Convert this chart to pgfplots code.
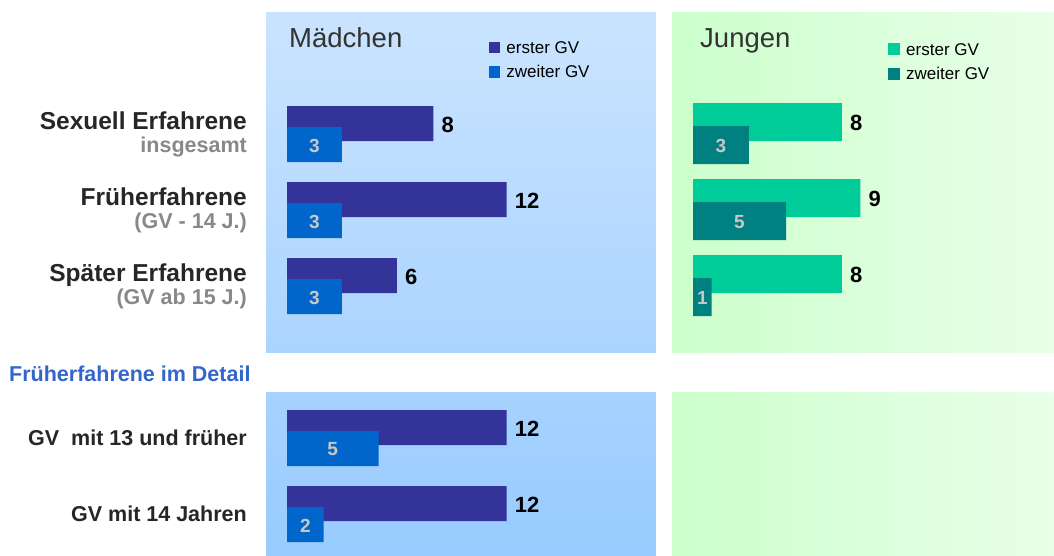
\documentclass[border=0pt]{standalone}
\usepackage{fontspec}
\setmainfont{Liberation Sans}
\usepackage{pgfplots}
\usepackage{pgfplotstable}
\pgfplotsset{compat=1.18}
\definecolor{mfirst}{RGB}{51,51,153}
\definecolor{msecond}{RGB}{0,102,204}
\definecolor{jfirst}{RGB}{0,204,153}
\definecolor{jsecond}{RGB}{0,128,128}
\definecolor{inlbl}{RGB}{200,200,200}
\definecolor{mtopA}{RGB}{202,228,255}
\definecolor{mtopB}{RGB}{171,212,255}
\definecolor{mbotA}{RGB}{166,210,255}
\definecolor{mbotB}{RGB}{152,203,255}
\definecolor{jleft}{RGB}{204,255,204}
\definecolor{jright}{RGB}{232,255,232}
\definecolor{lbl}{RGB}{38,38,38}
\definecolor{sublbl}{RGB}{136,136,136}
\definecolor{detail}{RGB}{51,102,204}
\definecolor{ttl}{RGB}{51,51,51}

% y = bar centre (px from top), v = value
\pgfplotstableread{
y v
123.5 8
199.5 12
275.5 6
}\mfirsttop
\pgfplotstableread{
y v
144.5 3
220.5 3
296.5 3
}\msecondtop
\pgfplotstableread{
y v
427.5 12
503.5 12
}\mfirstbot
\pgfplotstableread{
y v
448.5 5
524.5 2
}\msecondbot
\pgfplotstableread{
y v
122 8
198 9
274 8
}\jfirst
\pgfplotstableread{
y v
145 3
221 5
297 1
}\jsecond

\pgfplotsset{
  panel/.style={
    y dir=reverse, y=1pt,
    axis line style={draw=none}, tick style={draw=none}, major tick length=0pt,
    xtick=\empty, ytick=\empty,
    clip=false,
    /pgf/number format/assume math mode=true,
    anchor=north west,
    yticklabel style={align=right, inner sep=0pt, xshift=-19pt,
      font=\fontsize{24.5}{23}\selectfont\bfseries, text=lbl},
    legend cell align=left,
  },
  barA/.style n args={3}{xbar, bar shift=0pt, draw=none, fill=#1, bar width=#2,
    nodes near coords, point meta=x,
    every node near coord/.append style={anchor=west, inner sep=0pt, xshift=8pt, yshift=-1pt,
      font=\fontsize{22}{22}\selectfont\bfseries, text=black},
    legend image code/.code={\fill[fill=#1] (0pt,-6pt) rectangle (#3,#3-6pt);}},
  barB/.style n args={3}{xbar, bar shift=0pt, draw=none, fill=#1, bar width=#2,
    legend image code/.code={\fill[fill=#1] (0pt,-6pt) rectangle (#3,#3-6pt);}},
  inlabel/.style={draw=none, mark=none, forget plot, nodes near coords, point meta=\thisrow{v},
    every node near coord/.append style={anchor=center, inner sep=0pt, yshift=-1pt,
      font=\fontsize{19}{19}\selectfont\bfseries, text=inlbl}},
  leg/.style 2 args={legend style={at={(#1,#2)}, anchor=north west, draw=none, fill=none,
    inner sep=0pt, row sep=12.5pt,
    nodes={inner sep=0pt, text height=12pt, text depth=0pt, font=\fontsize{17}{17}\selectfont, text=black},
    /tikz/every odd column/.append style={column sep=6pt}}},
}

\begin{document}
\begin{tikzpicture}
\path[use as bounding box] (0,0) rectangle (1054pt,-556pt);

% Mädchen, top
\begin{axis}[panel, at={(266pt,-12pt)},
  x=18.3pt, xmin=-1.1475, xmax=20.16, ymin=12, ymax=352,
  axis background/.style={top color=mtopA, bottom color=mtopB},
  ytick={134,210,286},
  yticklabels={{Sexuell Erfahrene\\{\color{sublbl}\fontsize{21.5}{23}\selectfont insgesamt}},
               {Früherfahrene\\{\color{sublbl}\fontsize{21.5}{23}\selectfont (GV - 14 J.)}},
               {Später Erfahrene\\{\color{sublbl}\fontsize{21.5}{23}\selectfont (GV ab 15 J.)}}},
  leg={0.5718}{0.9147},
]
\addplot[barA={mfirst}{35pt}{11.3pt}] table[x=v, y=y] {\mfirsttop};
\addlegendentry{erster GV}
\addplot[barB={msecond}{35pt}{11.3pt}] table[x=v, y=y] {\msecondtop};
\addlegendentry{zweiter GV}
\addplot[inlabel] table[x expr=\thisrow{v}/2, y=y] {\msecondtop};
\end{axis}

% Jungen, top
\begin{axis}[panel, at={(672pt,-12pt)},
  x=18.6pt, xmin=-1.129, xmax=19.41, ymin=12, ymax=352,
  axis background/.style={left color=jleft, right color=jright},
  leg={0.5654}{0.9088},
]
\addplot[barA={jfirst}{38pt}{12pt}] table[x=v, y=y] {\jfirst};
\addlegendentry{erster GV}
\addplot[barB={jsecond}{38pt}{12pt}] table[x=v, y=y] {\jsecond};
\addlegendentry{zweiter GV}
\addplot[inlabel] table[x expr=\thisrow{v}/2, y=y] {\jsecond};
\end{axis}

% Mädchen, bottom
\begin{axis}[panel, at={(266pt,-392pt)},
  x=18.3pt, xmin=-1.1475, xmax=20.16, ymin=392, ymax=556,
  axis background/.style={top color=mbotA, bottom color=mbotB},
  ytick={438,514},
  yticklabels={{GV~~mit 13 und früher},{GV mit 14 Jahren}},
  yticklabel style={font=\fontsize{21.5}{23}\selectfont\bfseries},
]
\addplot[barA={mfirst}{35pt}{11.3pt}] table[x=v, y=y] {\mfirstbot};
\addplot[barB={msecond}{35pt}{11.3pt}] table[x=v, y=y] {\msecondbot};
\addplot[inlabel] table[x expr=\thisrow{v}/2, y=y] {\msecondbot};
\end{axis}

% Jungen, bottom (empty)
\begin{axis}[panel, at={(672pt,-392pt)},
  x=18.6pt, xmin=-1.129, xmax=19.41, ymin=392, ymax=556,
  axis background/.style={left color=jleft, right color=jright},
]
\end{axis}

\node[anchor=base west, inner sep=0pt, font=\fontsize{27.5}{27.5}\selectfont, text=ttl] at (289pt,-48pt) {Mädchen};
\node[anchor=base west, inner sep=0pt, font=\fontsize{27.5}{27.5}\selectfont, text=ttl] at (700pt,-48pt) {Jungen};
\node[anchor=base west, inner sep=0pt, font=\fontsize{21.5}{21.5}\selectfont\bfseries, text=detail] at (9pt,-381pt) {Früherfahrene im Detail};
\end{tikzpicture}
\end{document}
